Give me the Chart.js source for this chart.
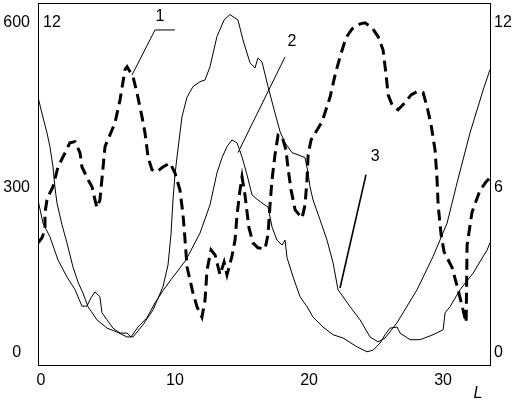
<!DOCTYPE html>
<html>
<head>
<meta charset="utf-8">
<script src="https://cdn.jsdelivr.net/npm/chart.js@4.4.1/dist/chart.umd.min.js"></script>
<style>
  html, body { margin: 0; padding: 0; background: #fff; }
</style>
</head>
<body>
<canvas id="chart" width="515" height="407"></canvas>
<script>
// curve 1 - thick dashed
const curve1L = [-0.22, 0.07, 0.30, 0.30, 0.45, 0.67, 0.90, 1.27, 1.64, 2.16, 2.54, 2.91, 3.06, 3.51, 3.81, 4.03, 4.18, 4.40, 4.78, 5.52, 5.90, 6.27, 6.42, 6.87, 7.16, 7.54, 7.76, 7.99, 8.28, 8.66, 9.10, 9.63, 10.0, 10.37, 10.60, 10.75, 10.90, 11.34, 11.64, 12.01, 12.24, 12.39, 12.69, 12.99, 13.36, 13.66, 13.88, 14.25, 14.48, 14.63, 14.85, 15.0, 15.22, 15.52, 15.82, 16.19, 16.72, 16.94, 17.09, 17.24, 17.46, 17.69, 17.99, 18.28, 18.43, 18.66, 18.96, 19.48, 19.70, 19.85, 19.93, 20.15, 20.52, 20.97, 21.57, 21.94, 22.31, 22.76, 23.21, 23.81, 24.18, 24.70, 25.15, 25.52, 25.75, 25.90, 26.19, 26.64, 27.16, 27.61, 28.06, 28.51, 28.81, 29.10, 29.40, 29.55, 29.63, 29.85, 30.07, 30.67, 31.12, 31.49, 31.72, 31.76, 31.79, 32.16, 32.76, 33.21, 33.5];
const curve1V = [200, 209, 224, 255, 278, 291, 302, 338, 356, 382, 384, 364, 338, 315, 302, 278, 264, 278, 375, 418, 460, 515, 520, 502, 473, 429, 400, 356, 333, 329, 338, 345, 327, 296, 251, 205, 156, 109, 84, 65, 96, 151, 187, 178, 142, 165, 142, 176, 205, 251, 296, 320, 287, 227, 200, 191, 189, 215, 269, 315, 360, 396, 393, 369, 336, 296, 260, 245, 269, 315, 360, 387, 402, 420, 465, 505, 538, 573, 589, 598, 600, 591, 575, 551, 505, 469, 451, 442, 455, 469, 475, 473, 447, 415, 369, 315, 269, 215, 184, 155, 115, 78, 55, 133, 196, 256, 296, 311, 318];

// curve 2 - thin, lower peaks
const curve2L = [-0.22, 0.15, 0.67, 1.27, 1.94, 2.54, 3.06, 3.43, 3.73, 4.03, 4.40, 4.55, 4.93, 5.37, 5.90, 6.42, 6.72, 7.24, 7.91, 8.51, 9.10, 9.70, 10.82, 11.87, 12.61, 13.13, 13.51, 13.88, 14.25, 14.63, 15.0, 15.37, 15.75, 16.19, 16.57, 16.94, 17.24, 17.61, 17.99, 18.21, 18.36, 18.81, 19.33, 19.85, 20.30, 21.04, 21.79, 22.54, 23.58, 24.33, 24.78, 25.30, 25.67, 26.04, 26.57, 26.79, 27.54, 28.28, 29.25, 30.0, 30.15, 30.52, 31.27, 32.24, 33.28, 33.5];
const curve2V = [278, 236, 211, 169, 138, 115, 85, 85, 100, 111, 102, 73, 60, 45, 36, 36, 29, 47, 64, 91, 113, 133, 169, 218, 269, 327, 355, 375, 387, 382, 356, 324, 287, 278, 271, 265, 229, 205, 196, 205, 173, 138, 102, 84, 65, 47, 33, 27, 11, 2, 5, 18, 33, 45, 47, 36, 24, 24, 33, 42, 73, 84, 115, 145, 187, 200];

// curve 3 - thin, high peak
const curve3L = [-0.22, 0.07, 0.45, 0.67, 0.90, 1.04, 1.19, 1.57, 1.94, 2.39, 2.76, 3.13, 3.51, 4.18, 4.93, 5.67, 6.42, 6.87, 7.61, 8.36, 9.10, 9.48, 9.70, 9.85, 10.0, 10.15, 10.52, 10.90, 11.34, 11.87, 12.24, 12.61, 13.13, 13.66, 14.10, 14.70, 15.07, 15.60, 15.97, 16.19, 16.49, 16.94, 17.46, 17.84, 18.21, 18.73, 19.18, 19.70, 19.93, 20.07, 20.30, 20.82, 21.34, 21.79, 22.16, 23.06, 23.81, 24.55, 25.15, 25.67, 26.57, 28.06, 29.25, 30.30, 31.04, 32.01, 32.99, 33.5];
const curve3V = [465, 436, 400, 375, 338, 302, 273, 233, 200, 156, 129, 109, 84, 60, 45, 38, 29, 29, 51, 78, 120, 160, 215, 278, 324, 356, 429, 465, 484, 493, 496, 520, 575, 605, 615, 605, 569, 527, 518, 536, 529, 484, 436, 402, 382, 364, 360, 355, 327, 302, 278, 242, 205, 164, 115, 84, 60, 29, 20, 27, 55, 115, 175, 236, 309, 400, 478, 515];

// axis ticks
const xTicks = [0, 10, 20, 30];
const yTicks = [0, 300, 600];
const y1Ticks = [0, 6, 12];

// curve labels with leader lines
const labelText = ["1", "2", "3"];
const labelL = [8.88, 18.73, 24.93];
const labelV = [611, 565, 356];
const leader1L = [9.99, 8.51, 6.79];
const leader1V = [587, 587, 505];
const leader2L = [18.21, 14.70];
const leader2V = [538, 364];
const leader3L = [24.25, 22.31];
const leader3V = [324, 118];

const pts = (xs, ys) => xs.map((x, i) => ({ x: x, y: ys[i] }));
const FONT = "'Liberation Sans', Arial, sans-serif";

// no extra room for half tick labels at the ends
const noPad = (s) => { s.paddingTop = 0; s.paddingBottom = 0; s.paddingLeft = 0; s.paddingRight = 0; };

// frame + text labels
const annotate = {
  id: "annotate",
  afterDraw(chart) {
    const c = chart.ctx;
    const a = chart.chartArea;
    const sx = chart.scales.x, sy = chart.scales.y;
    c.save();
    c.strokeStyle = "#000";
    c.lineWidth = 1;
    c.strokeRect(a.left + 0.5, a.top + 0.5, a.right - a.left, a.bottom - a.top);
    c.fillStyle = "#000";
    c.font = "16px " + FONT;
    c.textAlign = "center";
    c.textBaseline = "middle";
    labelText.forEach((t, i) => {
      c.fillText(t, sx.getPixelForValue(labelL[i]), sy.getPixelForValue(labelV[i]));
    });
    c.fillText("12", sx.getPixelForValue(0.82), sy.getPixelForValue(600));
    c.font = "italic 16px " + FONT;
    c.fillText("L", a.right - 12, a.bottom + 29);
    c.restore();
  }
};

const thin = { borderColor: "#000", borderWidth: 1, showLine: true, pointRadius: 0, tension: 0 };

new Chart(document.getElementById("chart"), {
  type: "scatter",
  data: {
    datasets: [
      Object.assign({}, thin, { data: pts(curve3L, curve3V) }),
      Object.assign({}, thin, { data: pts(curve2L, curve2V) }),
      Object.assign({}, thin, { data: pts(curve1L, curve1V), borderWidth: 3, borderDash: [11, 6], borderCapStyle: "butt" }),
      Object.assign({}, thin, { data: pts(leader1L, leader1V) }),
      Object.assign({}, thin, { data: pts(leader2L, leader2V) }),
      Object.assign({}, thin, { data: pts(leader3L, leader3V), borderWidth: 1.6 }),
    ],
  },
  options: {
    responsive: false,
    animation: false,
    layout: { padding: { top: 3, left: 0, right: 0, bottom: 0 } },
    plugins: { legend: { display: false }, tooltip: { enabled: false } },
    scales: {
      x: {
        type: "linear",
        min: -0.22,
        max: 33.5,
        afterBuildTicks: (s) => { s.ticks = xTicks.map((v) => ({ value: v })); },
        afterFit: (s) => { s.height = 42; noPad(s); },
        grid: { display: false, drawTicks: false },
        border: { display: false },
        ticks: { color: "#000", padding: 6, maxRotation: 0, font: { family: FONT, size: 16 } },
      },
      y: {
        position: "left",
        min: -22,
        max: 636,
        afterBuildTicks: (s) => { s.ticks = yTicks.map((v) => ({ value: v })); },
        afterFit: (s) => { s.width = 38; noPad(s); },
        grid: { display: false, drawTicks: false },
        border: { display: false },
        ticks: { color: "#000", padding: 8, crossAlign: "center", font: { family: FONT, size: 16 } },
      },
      y1: {
        position: "right",
        min: -0.44,
        max: 12.72,
        afterBuildTicks: (s) => { s.ticks = y1Ticks.map((v) => ({ value: v })); },
        afterFit: (s) => { s.width = 25; noPad(s); },
        grid: { display: false, drawTicks: false },
        border: { display: false },
        ticks: { color: "#000", padding: 4, font: { family: FONT, size: 16 } },
      },
    },
  },
  plugins: [annotate],
});
</script>
</body>
</html>
